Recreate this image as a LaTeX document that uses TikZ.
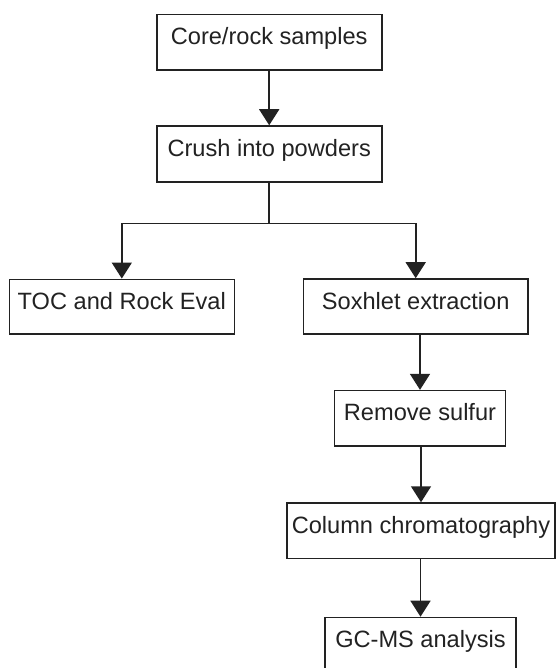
\documentclass[tikz,border=0pt]{standalone}
\usepackage{fontspec}
\setmainfont{Liberation Sans}
\usetikzlibrary{arrows.meta}
\definecolor{ink}{HTML}{222222}
\tikzset{
  stepbox/.style={draw=ink, line width=1.6pt, inner sep=0pt, text=ink,
    font=\fontsize{23.6}{28}\selectfont, text height=0.72em, text depth=0.21em},
  conn/.style={draw=ink, line width=1.6pt},
  arr/.style={conn, -{Triangle[width=20pt,length=16pt]}}
}
\begin{document}
\begin{tikzpicture}[x=1pt,y=-1pt]
\useasboundingbox (0,0) rectangle (558,668);
\fill[white] (0,0) rectangle (558,668);
\node[stepbox, minimum width=225pt, minimum height=55.3pt] (core) at (269.2,42.3) {Core/rock samples};
\node[stepbox, minimum width=225pt, minimum height=55.7pt] (crush) at (269.2,153.9) {Crush into powders};
\node[stepbox, minimum width=225pt, minimum height=54.7pt] (toc) at (121.8,306.7) {TOC and Rock Eval};
\node[stepbox, minimum width=224.7pt, minimum height=55pt] (sox) at (415.7,306.5) {Soxhlet extraction};
\node[stepbox, minimum width=171pt, minimum height=55.3pt] (sulfur) at (420,418.3) {Remove sulfur};
\node[stepbox, minimum width=267.7pt, minimum height=55.3pt] (column) at (421,530.7) {Column chromatography};
\node[stepbox, minimum width=191pt, minimum height=55pt] (gcms) at (420.5,645) {GC-MS analysis};
\coordinate (split) at (269.2,223.3);
\draw[arr] (core.south) -- (crush.north);
\draw[conn] (crush.south) -- (split);
\draw[arr] (split) -| (toc.north);
\draw[arr] (split) -| (sox.north);
\draw[arr] (sulfur.north |- sox.south) -- (sulfur.north);
\draw[arr] (column.north |- sulfur.south) -- (column.north);
\draw[arr] (gcms.north |- column.south) -- (gcms.north);
\end{tikzpicture}
\end{document}
